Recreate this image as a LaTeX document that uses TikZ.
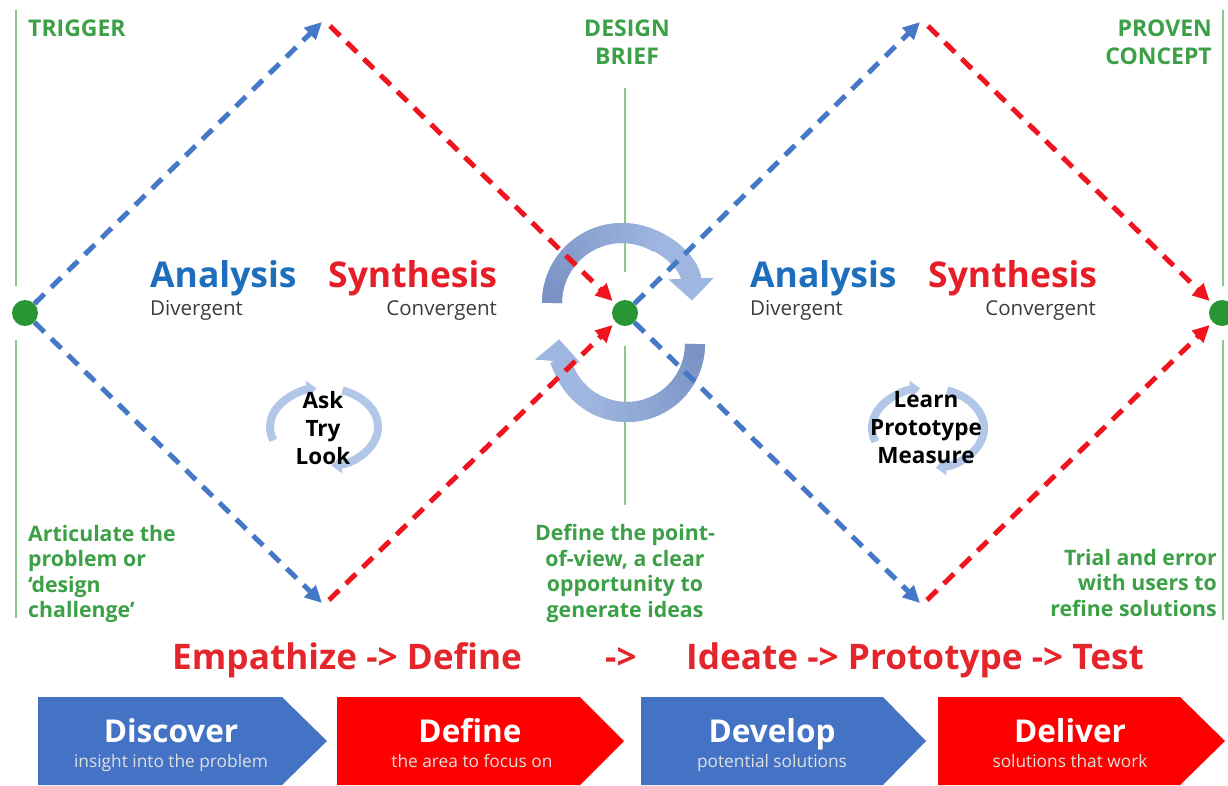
\documentclass[tikz,border=0pt]{standalone}
\usepackage{fontspec}
\setmainfont{Open Sans}
\usetikzlibrary{arrows.meta,calc}
\definecolor{gtxt}{RGB}{60,160,70}
\definecolor{gline}{RGB}{140,200,140}
\definecolor{gdot}{RGB}{40,150,50}
\definecolor{dblue}{RGB}{70,120,200}
\definecolor{dred}{RGB}{240,20,30}
\definecolor{ablue}{RGB}{30,110,190}
\definecolor{sred}{RGB}{230,30,40}
\definecolor{dgrey}{RGB}{60,60,60}
\definecolor{arclight}{RGB}{158,182,224}
\definecolor{arcdark}{RGB}{122,146,196}
\definecolor{smallarc}{RGB}{178,198,232}
\definecolor{cblue}{RGB}{68,114,196}
\definecolor{cred}{RGB}{255,0,0}
\definecolor{ered}{RGB}{228,38,44}
\tikzset{
  dotnode/.style={circle,fill=gdot,minimum size=26pt,inner sep=0pt},
  gvline/.style={gline,line width=2pt},
  dashbase/.style={line width=5pt,dash pattern=on 14pt off 9.5pt,-{Triangle[length=17pt,width=16pt]}},
  bdash/.style={dashbase,dblue},
  rdash/.style={dashbase,dred},
  bigarrow/.style={arclight,line width=20pt,-{Triangle[length=22pt,width=44pt]}},
  bigshade/.style={line width=20pt},
  smallarrow/.style={smallarc,line width=8pt,-{Triangle[length=10pt,width=17pt]}},
  gtitle/.style={gtxt,inner sep=0pt,font=\fontsize{23}{27.5}\selectfont\bfseries},
  gnote/.style={gtxt,inner sep=0pt,font=\fontsize{21.3}{25.5}\selectfont\bfseries},
  atext/.style={ablue,inner sep=0pt,font=\fontsize{35.5}{40}\selectfont\bfseries},
  stext/.style={sred,inner sep=0pt,font=\fontsize{35.5}{40}\selectfont\bfseries},
  subtext/.style={dgrey,inner sep=0pt,font=\fontsize{20.5}{24}\selectfont},
  cyc/.style={black,inner sep=0pt,align=center,font=\fontsize{22.5}{28}\selectfont\bfseries},
  flow/.style={ered,inner sep=0pt,font=\fontsize{35.2}{40}\selectfont\bfseries},
  chtitle/.style={white,inner sep=0pt,anchor=base,font=\fontsize{31.5}{36}\selectfont\bfseries},
  chsub/.style={white!88!black,inner sep=0pt,anchor=base,font=\fontsize{17.3}{20}\selectfont},
}
\begin{document}
\begin{tikzpicture}[x=1pt,y=-1pt]
\useasboundingbox (0,0) rectangle (1228,785);
\fill[white] (0,0) rectangle (1228,785);

% vertical green lines
\draw[gvline] (16,10) -- (16,286);
\draw[gvline] (16,340) -- (16,618);
\draw[gvline] (625,88) -- (625,272);
\draw[gvline] (625,346) -- (625,505);
\draw[gvline] (1223,10) -- (1223,286);
\draw[gvline] (1223,340) -- (1223,620);

% big circular arrows (with a soft shade)
\draw[bigarrow] (622,303) ++(180:70) arc[start angle=180,end angle=358,radius=70];
\foreach \a [evaluate=\a as \p using {int(100*(\a-180)/120)}] in {180,190,...,290}
  \draw[bigshade,arclight!\p!arcdark] (622,303) ++(\a:70) arc[start angle=\a,end angle=\a+11,radius=70];
\draw[bigarrow] (627,344) ++(0:68) arc[start angle=0,end angle=184,radius=68];
\foreach \a [evaluate=\a as \p using {int(100*\a/120)}] in {0,10,...,110}
  \draw[bigshade,arclight!\p!arcdark] (627,344) ++(\a:68) arc[start angle=\a,end angle=\a+11,radius=68];

% dots
\node[dotnode] (L) at (25,313) {};
\node[dotnode] (C) at (625,313) {};
\node[dotnode] (R) at (1222,313) {};
\coordinate (T1) at (322,22);
\coordinate (T1r) at (330,26);
\coordinate (B1) at (322,603);
\coordinate (B1r) at (329,600);
\coordinate (T2) at (920,22);
\coordinate (T2r) at (928,26);
\coordinate (B2) at (920,603);
\coordinate (B2r) at (927,600);

% diamond 1
\draw[bdash] (L) -- (T1);
\draw[bdash] (L) -- (B1);
\draw[rdash,shorten >=4pt] (T1r) -- (C);
\draw[rdash,shorten >=4pt] (B1r) -- (C);
% diamond 2
\draw[bdash] (C) -- (T2);
\draw[bdash] (C) -- (B2);
\draw[rdash,shorten >=4pt] (T2r) -- (R);
\draw[rdash,shorten >=4pt] (B2r) -- (R);

% small cycles
\draw[smallarrow] (324,427) ++(160:54 and 39) arc[start angle=160,end angle=262,x radius=54,y radius=39];
\draw[smallarrow] (324,427) ++(290:54 and 39) arc[start angle=290,end angle=442,x radius=54,y radius=39];
\draw[smallarrow] (928,428) ++(160:56 and 40) arc[start angle=160,end angle=262,x radius=56,y radius=40];
\draw[smallarrow] (928,428) ++(290:56 and 40) arc[start angle=290,end angle=442,x radius=56,y radius=40];
\node[cyc] (atl) at (323,428) {Ask\\Try\\Look};
\node[cyc] (lpm) at (926,428) {Learn\\Prototype\\Measure};

% top labels
\node[gtitle,anchor=base west] (trig) at (28,36) {TRIGGER};
\node[gtitle,anchor=north,align=center] (brief) at (627,20) {DESIGN\\BRIEF};
\node[gtitle,anchor=north east,align=right] (proven) at (1212,20) {PROVEN\\CONCEPT};

% analysis / synthesis
\node[atext,anchor=base west] (an1) at (150,287) {Analysis};
\node[subtext,anchor=base west] (dv1) at (150,315) {Divergent};
\node[stext,anchor=base west] (sy1) at (328,287) {Synthesis};
\node[subtext,anchor=base east] (cv1) at (497,315) {Convergent};
\node[atext,anchor=base west] (an2) at (750,287) {Analysis};
\node[subtext,anchor=base west] (dv2) at (750,315) {Divergent};
\node[stext,anchor=base west] (sy2) at (928,287) {Synthesis};
\node[subtext,anchor=base east] (cv2) at (1096,315) {Convergent};

% bottom notes
\node[gnote,anchor=north west,align=left] (n1) at (28,525) {Articulate the\\problem or\\‘design\\challenge’};
\node[gnote,anchor=north,align=center] (n2) at (625,524) {Define the point-\\of-view, a clear\\opportunity to\\generate ideas};
\node[gnote,anchor=north east,align=right] (n3) at (1217,549) {Trial and error\\with users to\\refine solutions};

% flow line
\node[flow,anchor=base west] (f1) at (172,669) {Empathize -> Define};
\node[flow,anchor=base west] (f2) at (605,669) {->};
\node[flow,anchor=base west] (f3) at (686,669) {Ideate -> Prototype -> Test};

% chevrons
\fill[cblue] (38,697) -- (282,697) -- (327,741) -- (282,785) -- (38,785) -- cycle;
\fill[cred] (337,697) -- (580,697) -- (624,741) -- (580,785) -- (337,785) -- cycle;
\fill[cblue] (641,697) -- (883,697) -- (926,741) -- (883,785) -- (641,785) -- cycle;
\fill[cred] (938,697) -- (1180,697) -- (1225,741) -- (1180,785) -- (938,785) -- cycle;
\node[chtitle] (d1) at (171,742) {Discover};
\node[chsub] (d1s) at (171,767) {insight into the problem};
\node[chtitle] (d2) at (470,742) {Define};
\node[chsub] (d2s) at (472,767) {the area to focus on};
\node[chtitle] (d3) at (772,742) {Develop};
\node[chsub] (d3s) at (772,767) {potential solutions};
\node[chtitle] (d4) at (1070,742) {Deliver};
\node[chsub] (d4s) at (1070,767) {solutions that work};
\end{tikzpicture}
\end{document}
